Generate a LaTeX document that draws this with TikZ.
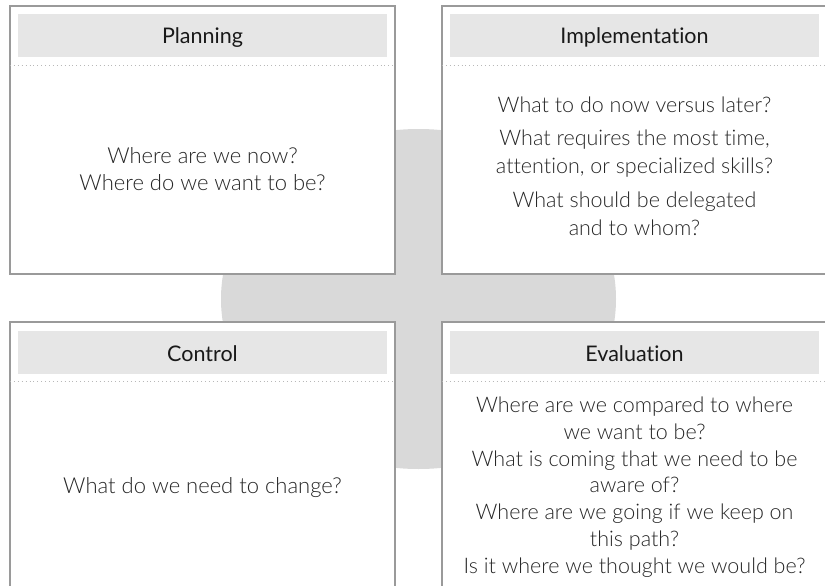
\documentclass[tikz,border=0pt]{standalone}
\usepackage{fontspec}
\setmainfont{Lato}[UprightFont={* Light}, Ligatures=NoCommon]
\newfontfamily\headfont{Lato}[Ligatures=NoCommon]
\usetikzlibrary{positioning, calc}
\definecolor{boxline}{HTML}{9A9A9A}
\definecolor{headfill}{HTML}{E6E6E6}
\definecolor{crossfill}{HTML}{D9D9D9}
\definecolor{dotline}{HTML}{B8B8B8}

\begin{document}
\begin{tikzpicture}[x=1pt, y=-1pt,
		panel/.style={draw=boxline, line width=1.2pt, fill=white},
		band/.style={fill=headfill},
		title/.style={font=\headfont\fontsize{21.5}{24}\selectfont, text=black!90, anchor=base, inner sep=0pt},
		question/.style={align=center, anchor=base, text=black!85, inner sep=0pt},
		rule/.style={draw=dotline, line width=0.9pt, dash pattern=on 0.9pt off 3pt}]
		
		\useasboundingbox (0,0) rectangle (825,586);
		\clip (0,0) rectangle (825,586);
		
		% grey disc behind the four panels
		\fill[crossfill] (418.5,299) ellipse [x radius=197.5, y radius=170];
		
		\draw[panel] (10,6) rectangle (395,274);
		\draw[panel] (442,6) rectangle (827,274);
		\draw[panel] (10,322) rectangle (395,600);
		\draw[panel] (442,322) rectangle (827,600);
		
		\fill[band] (18,14) rectangle (387,57);
		\fill[band] (450,14) rectangle (819,57);
		\fill[band] (18,331) rectangle (387,374);
		\fill[band] (450,331) rectangle (819,374);
		
		\draw[rule] (10,65) -- (395,65);
		\draw[rule] (442,65) -- (827,65);
		\draw[rule] (10,381) -- (395,381);
		\draw[rule] (442,381) -- (827,381);
		
		\node (planning) [title] at (202.5,44) {Planning};
		\node (implementation) [title] at (634.5,44) {Implementation};
		\node (control) [title] at (202.5,361) {Control};
		\node (evaluation) [title] at (634.5,361) {Evaluation};
		
		% anchor=base sits on the last line of each text
		\node (planning text) [question, font=\fontsize{22}{27}\selectfont] at (202.5,190)
			{Where are we now?\\Where do we want to be?};
		\node (implementation text) [question, font=\fontsize{21.5}{28}\selectfont] at (634.5,235)
			{What to do now versus later?\\[5.5pt]What requires the most time,\\attention, or specialized skills?\\[5.5pt]What should be delegated\\and to whom?};
		\node (control text) [question, font=\fontsize{22}{27}\selectfont] at (202.5,493)
			{What do we need to change?};
		\node (evaluation text) [question, font=\fontsize{21.5}{26.7}\selectfont] at (634.5,573)
			{Where are we compared to where\\we want to be?\\What is coming that we need to be\\aware of?\\Where are we going if we keep on\\this path?\\Is it where we thought we would be?};
		
		\end{tikzpicture}
\end{document}
